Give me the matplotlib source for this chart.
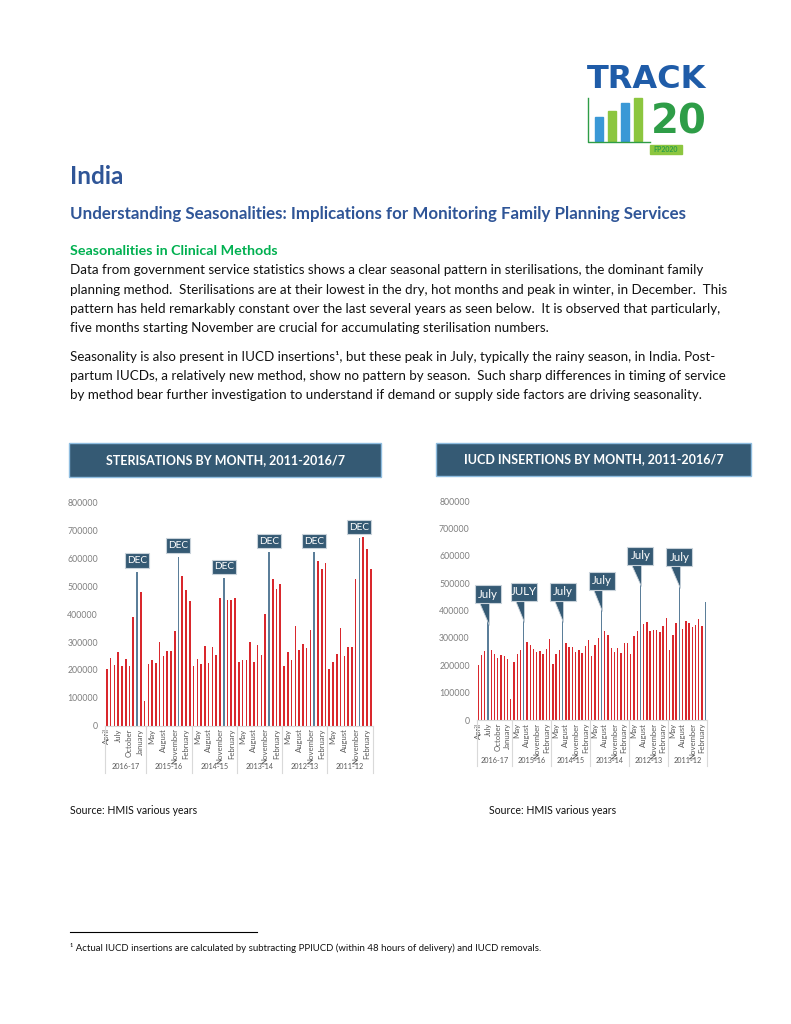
import numpy as np
import matplotlib.pyplot as plt
from matplotlib.patches import Rectangle, Polygon

plt.rcParams['font.family'] = ['Lato', 'DejaVu Sans']

# ==========================[Data]=============================
months = ['April', 'May', 'June', 'July', 'August', 'September', 'October',
          'November', 'December', 'January', 'February', 'March']
fiscal_years = ['2016-17', '2015-16', '2014-15', '2013-14', '2012-13', '2011-12']

ster_2016_17 = [202000, 242000, 219000, 264000, 213000, 238000, 215000, 389000, 553000, 478000, 89000]
ster_2015_16 = [220000, 236000, 224000, 300000, 251000, 268000, 268000, 341000, 606000, 537000, 487000, 447000]
ster_2014_15 = [213000, 238000, 220000, 286000, 225000, 281000, 254000, 457000, 529000, 451000, 451000, 457000]
ster_2013_14 = [230000, 236000, 236000, 300000, 227000, 288000, 254000, 401000, 622000, 525000, 489000, 508000]
ster_2012_13 = [214000, 263000, 237000, 358000, 270000, 293000, 277000, 344000, 622000, 591000, 561000, 583000]
ster_2011_12 = [205000, 228000, 256000, 349000, 249000, 282000, 282000, 525000, 672000, 676000, 633000, 561000]

iucd_2016_17 = [201000, 237000, 252000, 411000, 255000, 240000, 227000, 237000, 233000, 222000, 77000]
iucd_2015_16 = [212000, 240000, 255000, 420000, 284000, 273000, 260000, 249000, 254000, 241000, 260000, 295000]
iucd_2014_15 = [205000, 240000, 257000, 420000, 283000, 268000, 266000, 249000, 256000, 245000, 271000, 291000]
iucd_2013_14 = [233000, 276000, 301000, 460000, 326000, 310000, 265000, 250000, 263000, 245000, 282000, 282000]
iucd_2012_13 = [240000, 307000, 326000, 552000, 351000, 359000, 324000, 329000, 330000, 321000, 343000, 372000]
iucd_2011_12 = [257000, 311000, 354000, 546000, 332000, 363000, 354000, 339000, 348000, 371000, 344000, 433000]

ster_groups = [ster_2016_17, ster_2015_16, ster_2014_15, ster_2013_14, ster_2012_13, ster_2011_12]
iucd_groups = [iucd_2016_17, iucd_2015_16, iucd_2014_15, iucd_2013_14, iucd_2012_13, iucd_2011_12]

ster_peak = 'December'
ster_labels = ['DEC', 'DEC', 'DEC', 'DEC', 'DEC', 'DEC']
iucd_peak = 'July'
iucd_labels = ['July', 'JULY', 'July', 'July', 'July', 'July']
iucd_extra_blue = [('2011-12', 'March')]

yticks = [0, 100000, 200000, 300000, 400000, 500000, 600000, 700000, 800000]

RED = '#d9282d'
SLATE = '#5b7e99'
BOX = '#355a74'
BLUE_TXT = '#2f5597'
GRAY = '#7f7f7f'

W, H = 791, 1024
fig = plt.figure(figsize=(W / 100, H / 100), dpi=100)


def rect(x0, y0, x1, y1):
    # page pixel box -> figure fraction
    return [x0 / W, 1 - y1 / H, (x1 - x0) / W, (y1 - y0) / H]


def ftext(x, y, s, **kw):
    return fig.text(x / W, 1 - y / H, s, **kw)


# ==========================[Header text]=============================
ftext(70, 176, 'India', fontsize=17.5, fontweight='bold', color=BLUE_TXT, va='center')
ftext(70, 214, 'Understanding Seasonalities: Implications for Monitoring Family Planning Services',
      fontsize=12.2, fontweight='bold', color=BLUE_TXT, va='center')
ftext(70, 251, 'Seasonalities in Clinical Methods', fontsize=10.3, fontweight='bold',
      color='#00b050', va='center')

body = [
    (270, 'Data from government service statistics shows a clear seasonal pattern in sterilisations, the dominant family'),
    (290, 'planning method.  Sterilisations are at their lowest in the dry, hot months and peak in winter, in December.  This'),
    (309, 'pattern has held remarkably constant over the last several years as seen below.  It is observed that particularly,'),
    (328, 'five months starting November are crucial for accumulating sterilisation numbers.'),
    (357, 'Seasonality is also present in IUCD insertions¹, but these peak in July, typically the rainy season, in India. Post-'),
    (376, 'partum IUCDs, a relatively new method, show no pattern by season.  Such sharp differences in timing of service'),
    (395, 'by method bear further investigation to understand if demand or supply side factors are driving seasonality.'),
]
for y, s in body:
    ftext(70, y, s, fontsize=9.6, color='#111111', va='center')

ftext(70, 810, 'Source: HMIS various years', fontsize=7.6, color='#111111', va='center')
ftext(489, 810, 'Source: HMIS various years', fontsize=7.6, color='#111111', va='center')

fig.add_artist(plt.Line2D([70 / W, 257 / W], [1 - 932 / H, 1 - 932 / H], color='black', lw=0.8))
ftext(70, 948, '¹ Actual IUCD insertions are calculated by subtracting PPIUCD (within 48 hours of delivery) and IUCD removals.',
      fontsize=6.9, color='#111111', va='center')

# ==========================[Logo]=============================
logo = fig.add_axes(rect(580, 58, 730, 158))
logo.set_xlim(580, 730)
logo.set_ylim(158, 58)
logo.axis('off')
logo.text(587, 79, 'TRACK', fontsize=23, fontweight='bold', family='DejaVu Sans',
          color='#1f5ca8', va='center', ha='left')
logo.text(651, 122, '20', fontsize=29, fontweight='bold', family='DejaVu Sans',
          color='#2e9d47', va='center', ha='left')
logo_bars = [(595, 117, '#3a98d6'), (608, 111, '#8cc63f'), (621, 103, '#3a98d6'), (634, 98, '#8cc63f')]
for bx, top, c in logo_bars:
    logo.add_patch(Rectangle((bx, top), 8, 141 - top, color=c))
logo.plot([588, 588, 650], [98, 142, 142], color='#2e9d47', lw=1)
logo.add_patch(Rectangle((650, 145), 32, 9, color='#8cc63f'))
logo.text(666, 149.5, 'FP2020', fontsize=5, fontweight='bold', color='#2e9d47', ha='center', va='center')


# ==========================[Charts]=============================
def title_box(x0, y0, x1, y1, s):
    fig.add_artist(Rectangle((x0 / W, 1 - y1 / H), (x1 - x0) / W, (y1 - y0) / H,
                             transform=fig.transFigure, fc=BOX, ec='#8fbde0', lw=1))
    ftext((x0 + x1) / 2, (y0 + y1) / 2, s, fontsize=9.0, fontweight='bold', color='white',
          ha='center', va='center')


def px_to_data(ax, x, y, dx, dy):
    # offset a data point by dx, dy pixels (dy up)
    p = ax.transData.transform((x, y))
    return ax.transData.inverted().transform((p[0] + dx, p[1] + dy))


def draw_chart(ax, groups, peak, labels, extra, callout):
    values = []
    names = []
    colors = []
    starts = []
    for g, fy_ in zip(groups, fiscal_years):
        starts.append(len(values))
        for k, v in enumerate(g):
            values.append(v)
            names.append(months[k])
            hl = months[k] == peak or (fy_, months[k]) in extra
            colors.append(SLATE if hl else RED)
    n = len(values)
    x = np.arange(n)
    ax.bar(x, values, width=0.42, color=colors)
    ax.set_xlim(-0.5, n - 0.5)
    ax.set_ylim(0, 800000)
    ax.set_yticks(yticks)
    ax.set_yticklabels([str(t) for t in yticks])
    ax.tick_params(axis='y', length=0, labelsize=6.3, labelcolor=GRAY, pad=5)
    ax.set_xticks(x[::3])
    ax.set_xticklabels(names[::3], rotation=90, va='top', ha='center')
    ax.tick_params(axis='x', length=0, labelsize=5.6, labelcolor='#595959', pad=2)
    for sp in ['top', 'right', 'left']:
        ax.spines[sp].set_visible(False)
    ax.spines['bottom'].set_color('#d9d9d9')
    ax.spines['bottom'].set_linewidth(0.8)

    trans = ax.get_xaxis_transform()
    edges = starts + [n]
    for e in edges:
        ax.plot([e - 0.5, e - 0.5], [0, -0.21], transform=trans, color='#d9d9d9', lw=0.8, clip_on=False)
    for i, fy_ in enumerate(fiscal_years):
        mid = (edges[i] + edges[i + 1] - 1) / 2
        ax.text(mid, -0.185, fy_, transform=trans, fontsize=5.2, color='#595959', ha='center', va='center')

    # callouts
    for gi, s in enumerate(labels):
        k = months.index(peak)
        i = starts[gi] + k
        v = values[i]
        bw, bh, gap = callout['w'], callout['h'], callout['gap']
        (xa, ya) = px_to_data(ax, i, v, -bw / 2, gap)
        (xb, yb) = px_to_data(ax, i, v, bw / 2, gap + bh)
        if callout['tail']:
            p1 = px_to_data(ax, i, v, -9, gap + 1)
            p2 = px_to_data(ax, i, v, 0.6, gap + 1)
            p3 = px_to_data(ax, i, v, 0.6, -callout['tail'])
            ax.add_patch(Polygon([p1, p2, p3], closed=True, fc=BOX, ec='#c8d2da', lw=0.6,
                                 clip_on=False, zorder=3))
        ax.add_patch(Rectangle((xa, ya), xb - xa, yb - ya, fc=BOX, ec='#c8d2da', lw=0.8,
                               clip_on=False, zorder=4))
        ax.text((xa + xb) / 2, (ya + yb) / 2, s, fontsize=callout['fs'], color='white',
                ha='center', va='center', zorder=5)


ax1 = fig.add_axes(rect(105, 502.7, 372.6, 725.7))
title_box(69, 443, 381, 477, 'STERISATIONS BY MONTH, 2011-2016/7')
draw_chart(ax1, ster_groups, ster_peak, ster_labels, [],
           dict(w=24, h=14.5, gap=4, tail=0, fs=7.3))

ax2 = fig.add_axes(rect(476.7, 501.3, 706.9, 720))
title_box(436, 443, 751, 476, 'IUCD INSERTIONS BY MONTH, 2011-2016/7')
draw_chart(ax2, iucd_groups, iucd_peak, iucd_labels, iucd_extra_blue,
           dict(w=26, h=18, gap=4.5, tail=17, fs=8.3))

fig.savefig('out.png', dpi=100)
